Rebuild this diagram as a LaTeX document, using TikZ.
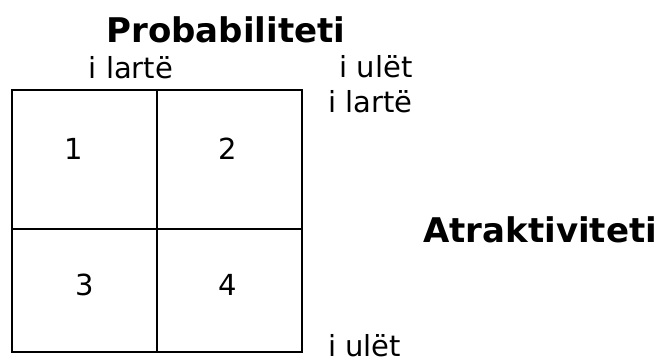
\documentclass[tikz,border=0pt]{standalone}
\usepackage{fontspec}
\setmainfont{DejaVu Sans}
\usetikzlibrary{positioning}

\begin{document}
\begin{tikzpicture}[x=1pt,y=-1pt,every node/.style={inner sep=0pt},
  lbl/.style={font=\fontsize{29}{34}\selectfont,anchor=base},
  ttl/.style={font=\fontsize{34}{40}\selectfont\bfseries,anchor=base}]
\useasboundingbox (0,0) rectangle (667,358);
% 2x2 matrix
\draw[line width=1.6pt] (12,90) rectangle (302,352);
\draw[line width=1.6pt] (157,90) -- (157,352);
\draw[line width=1.6pt] (12,229) -- (302,229);
% cell numbers
\node[lbl] (c1) at (74,160) {1};
\node[lbl] (c2) at (228,160) {2};
\node[lbl] (c3) at (85,295) {3};
\node[lbl] (c4) at (228,295) {4};
% axis titles
\node[ttl] (prob) at (226,43) {Probabiliteti};
\node[ttl,anchor=base west] (atr) at (423,243) {Atraktiviteti};
% axis ends
\node[lbl] (plarte) at (131,79) {i lartë};
\node[lbl] (pulet) at (376,78) {i ulët};
\node[lbl,anchor=base west] (alarte) at (328,113) {i lartë};
\node[lbl,anchor=base west] (aulet) at (328,356) {i ulët};
\end{tikzpicture}
\end{document}
